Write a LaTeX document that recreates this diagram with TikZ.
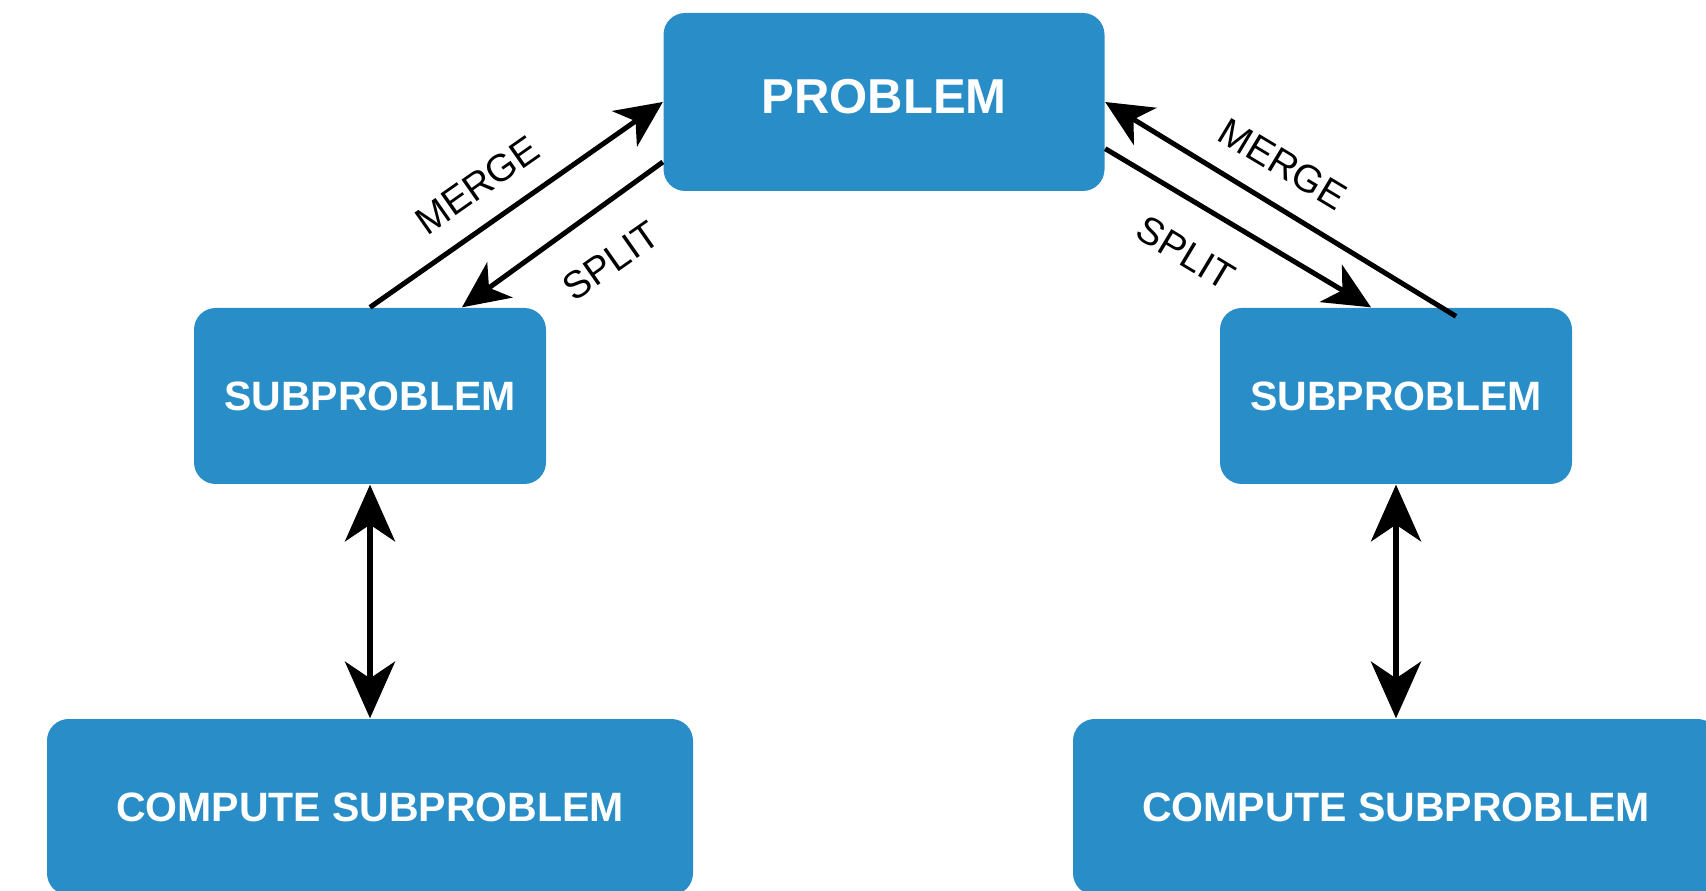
\documentclass[tikz,border=0pt]{standalone}
\usepackage{fontspec}
\setmainfont{Liberation Sans}
\usetikzlibrary{arrows.meta}
\definecolor{boxblue}{RGB}{41,142,199}

\begin{document}
\begin{tikzpicture}[x=0.3pt,y=0.3pt,yscale=-1,xscale=1,
    box/.style={fill=boxblue, rounded corners=6.5pt, text=white, inner sep=0pt, minimum height=52.8pt, font=\bfseries\fontsize{12.3}{14}\selectfont},
    conn/.style={line width=1.5pt, -{Stealth[length=14pt,width=13pt,inset=4pt]}},
    both/.style={line width=1.8pt, {Stealth[length=17pt,width=15pt,inset=5pt]}-{Stealth[length=17pt,width=15pt,inset=5pt]}},
    lbl/.style={inner sep=0.75pt, font=\fontsize{11.5}{13}\selectfont}]
    \useasboundingbox (0,0) rectangle (1706,891);
    \node [box, minimum width=132.3pt, minimum height=53.4pt, text depth=3.2pt, font=\bfseries\fontsize{14.7}{17}\selectfont] (prob) at (884,102) {PROBLEM};
    \node [box, minimum width=105.6pt] (subl) at (370,396) {SUBPROBLEM};
    \node [box, minimum width=105.6pt] (subr) at (1396,396) {SUBPROBLEM};
    \node [box, minimum width=193.8pt] (compl) at (370,807) {COMPUTE SUBPROBLEM};
    \node [box, minimum width=193.8pt] (compr) at (1396,807) {COMPUTE SUBPROBLEM};

    \draw [conn] (subl.north) -- (prob.west);
    \draw [conn] ([yshift=18pt]prob.west) -- ([xshift=27.6pt]subl.north);
    \draw [conn] ([yshift=14pt]prob.east) -- ([xshift=-7.5pt]subr.north);
    \draw [conn] ([xshift=18pt,yshift=2.7pt]subr.north) -- (prob.east);
    \draw [both] (subl.south) -- (compl.north);
    \draw [both] (subr.south) -- (compr.north);

    \node [lbl, rotate=35] (mergel) at (477,185) {MERGE};
    \node [lbl, rotate=35] (splitl) at (611,261) {SPLIT};
    \node [lbl, rotate=-31] (merger) at (1283,164) {MERGE};
    \node [lbl, rotate=-31] (splitr) at (1186,253) {SPLIT};
\end{tikzpicture}
\end{document}
